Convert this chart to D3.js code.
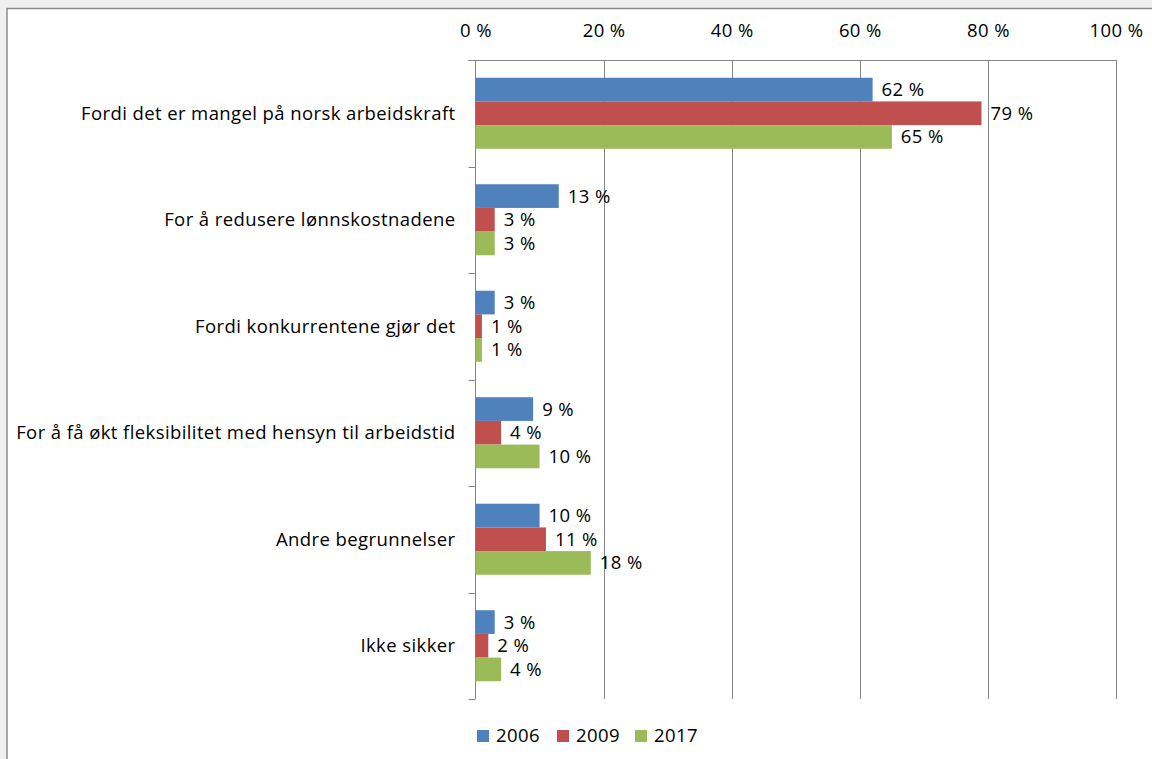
<!DOCTYPE html>
<html>
<head>
<meta charset="utf-8">
<script src="https://cdn.jsdelivr.net/npm/d3@7"></script>
<style>
  body { margin: 0; background: #f0f0f0; }
  svg text { font-family: "Open Sans", sans-serif; fill: #000; letter-spacing: 0.4px; }
</style>
</head>
<body>
<div id="view-container"></div>
<script>
// ************** data *****************
var categories = [
  "Fordi det er mangel på norsk arbeidskraft",
  "For å redusere lønnskostnadene",
  "Fordi konkurrentene gjør det",
  "For å få økt fleksibilitet med hensyn til arbeidstid",
  "Andre begrunnelser",
  "Ikke sikker"
];
var seriesNames = ["2006", "2009", "2017"];
var values2006 = [62, 13, 3, 9, 10, 3];
var values2009 = [79, 3, 1, 4, 11, 2];
var values2017 = [65, 3, 1, 10, 18, 4];
var xTicks = [0, 20, 40, 60, 80, 100];

//color set
var barColorSet = ["#4f81bd", "#c0504d", "#9bbb59"];

var widthTotal = 1152, heightTotal = 759;
var plot = {left: 475.5, right: 1116, top: 60, bottom: 699};
var fontSize = 18.5;

var seriesValues = [values2006, values2009, values2017];

var svg = d3.select("#view-container").append("svg")
  .attr("width", widthTotal)
  .attr("height", heightTotal);

//white chart frame
svg.append("rect")
  .attr("x", 7)
  .attr("y", 8.5)
  .attr("width", widthTotal)
  .attr("height", heightTotal)
  .attr("fill", "white")
  .attr("stroke", "#8a8a8a")
  .attr("stroke-width", 1.5);

var x = d3.scaleLinear().domain([0, 100]).range([plot.left, plot.right]);
var y = d3.scaleBand().domain(categories).range([plot.top, plot.bottom]).paddingInner(0.333).paddingOuter(0.1667);
var ySub = d3.scaleBand().domain(seriesNames).range([0, y.bandwidth()]);

//gridlines
svg.append("g")
  .selectAll("line")
  .data(xTicks.slice(1))
  .enter()
  .append("line")
  .attr("x1", function(d) { return Math.round(x(d)) + 0.5; })
  .attr("x2", function(d) { return Math.round(x(d)) + 0.5; })
  .attr("y1", plot.top)
  .attr("y2", plot.bottom)
  .attr("stroke", "#868686")
  .attr("stroke-width", 1);

//top axis
var xAxis = d3.axisTop(x)
  .tickValues(xTicks)
  .tickSize(0)
  .tickPadding(23)
  .tickFormat(function(d) { return d + " %"; });

var gx = svg.append("g")
  .attr("transform", "translate(0," + plot.top + ")")
  .call(xAxis);
gx.select(".domain").remove();
gx.append("line")
  .attr("x1", plot.left - 7).attr("x2", plot.right)
  .attr("y1", 0.5).attr("y2", 0.5)
  .attr("stroke", "#868686");
gx.selectAll("text")
  .attr("font-size", fontSize + "px")
  .attr("font-family", null)
  .attr("fill", "#000");

//left axis line with ticks between categories
var gy = svg.append("g");
gy.append("line")
  .attr("x1", plot.left).attr("x2", plot.left)
  .attr("y1", plot.top).attr("y2", plot.bottom)
  .attr("stroke", "#868686");
var step = (plot.bottom - plot.top) / categories.length;
gy.selectAll("line.tick")
  .data(d3.range(categories.length + 1))
  .enter()
  .append("line")
  .attr("class", "tick")
  .attr("x1", plot.left - 7).attr("x2", plot.left)
  .attr("y1", function(i) { return Math.round(plot.top + i * step) + 0.5; })
  .attr("y2", function(i) { return Math.round(plot.top + i * step) + 0.5; })
  .attr("stroke", "#868686");

//category labels
gy.selectAll("text")
  .data(categories)
  .enter()
  .append("text")
  .attr("x", plot.left - 20)
  .attr("y", function(d) { return y(d) + y.bandwidth() / 2; })
  .attr("dy", "0.35em")
  .attr("text-anchor", "end")
  .attr("font-size", fontSize + "px")
  .text(function(d) { return d; });

//bars
seriesNames.forEach(function(name, s) {
  var g = svg.append("g").attr("id", "series" + name);
  g.selectAll("rect")
    .data(seriesValues[s])
    .enter()
    .append("rect")
    .attr("x", x(0))
    .attr("y", function(d, i) { return y(categories[i]) + ySub(name); })
    .attr("width", function(d) { return x(d) - x(0); })
    .attr("height", ySub.bandwidth())
    .attr("fill", barColorSet[s]);

  g.selectAll("text")
    .data(seriesValues[s])
    .enter()
    .append("text")
    .attr("x", function(d) { return x(d) + 9; })
    .attr("y", function(d, i) { return y(categories[i]) + ySub(name) + ySub.bandwidth() / 2; })
    .attr("dy", "0.35em")
    .attr("font-size", fontSize + "px")
    .text(function(d) { return d + " %"; });
});

//legend
var legendX = [477, 557, 635];
var legend = svg.append("g").attr("id", "legend");
seriesNames.forEach(function(name, s) {
  legend.append("rect")
    .attr("x", legendX[s])
    .attr("y", 730)
    .attr("width", 12)
    .attr("height", 12)
    .attr("fill", barColorSet[s]);
  legend.append("text")
    .attr("x", legendX[s] + 19)
    .attr("y", 736)
    .attr("dy", "0.35em")
    .attr("font-size", fontSize + "px")
    .text(name);
});
</script>
</body>
</html>
